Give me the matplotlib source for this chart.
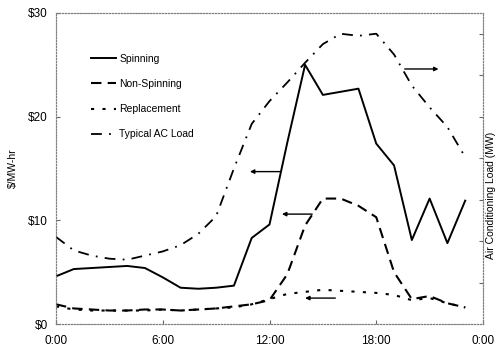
import numpy as np
import matplotlib.pyplot as plt

plt.rcParams['font.family'] = ['Liberation Sans', 'DejaVu Sans']

# hourly values (hour 0..23)
hours = np.arange(24)
spinning = [4.6, 5.3, 5.4, 5.5, 5.6, 5.4, 4.5, 3.5, 3.4, 3.5, 3.7, 8.3,
            9.6, 17.5, 25.0, 22.1, 22.4, 22.7, 17.4, 15.3, 8.1, 12.1, 7.8, 11.9]
non_spinning = [1.9, 1.5, 1.4, 1.3, 1.3, 1.4, 1.4, 1.3, 1.4, 1.5, 1.7, 1.9,
                2.3, 4.8, 9.5, 12.1, 12.1, 11.4, 10.3, 5.0, 2.4, 2.7, 2.0, 1.6]
replacement = [1.7, 1.4, 1.3, 1.3, 1.3, 1.3, 1.4, 1.3, 1.4, 1.5, 1.6, 1.9,
               2.4, 2.9, 3.1, 3.3, 3.2, 3.1, 3.0, 2.8, 2.3, 2.5, 2.0, 1.6]
ac_load = [8.4, 7.1, 6.6, 6.3, 6.2, 6.6, 7.0, 7.6, 8.7, 10.4, 15.0, 19.3,
           21.5, 23.3, 25.2, 27.0, 28.0, 27.8, 28.0, 26.0, 23.0, 20.9, 19.0, 16.1]

xtick_pos = [0, 6, 12, 18, 24]
xtick_labels = ['0:00', '6:00', '12:00', '18:00', '0:00']
ytick_pos = [0, 10, 20, 30]
ytick_labels = ['$0', '$10', '$20', '$30']

fig = plt.figure(figsize=(4.98, 3.55), dpi=100)
ax = fig.add_axes([56 / 498, 1 - 324 / 355, 427 / 498, 311 / 355])
ax2 = ax.twinx()

l1, = ax.plot(hours, spinning, color='k', lw=1.4, label='Spinning')
l2, = ax.plot(hours, non_spinning, color='k', lw=1.5, linestyle=(0, (5, 3)),
              label='Non-Spinning')
l3, = ax.plot(hours, replacement, color='k', lw=1.5, linestyle=(0, (1.5, 4)),
              label='Replacement')
l4, = ax2.plot(hours, ac_load, color='k', lw=1.3, linestyle=(0, (6, 4, 1, 4)),
               label='Typical AC Load')

ax.set_xlim(0, 24)
ax.set_ylim(0, 30)
ax2.set_ylim(0, 30)
ax.set_xticks(xtick_pos)
ax.set_xticklabels(xtick_labels, fontsize=8.5)
ax.set_yticks(ytick_pos)
ax.set_yticklabels(ytick_labels, fontsize=8.5)
ax.tick_params(direction='in', length=3, width=0.8, color='0.4')
ax.tick_params(axis='x', pad=8)
ax.tick_params(axis='y', pad=6)
ax2.set_yticks([4, 8, 12, 16, 20, 24, 28])
ax2.set_yticklabels([])
ax2.tick_params(direction='in', length=3, width=0.8, color='0.4')

for a in (ax, ax2):
    for s in a.spines.values():
        s.set_linestyle(':')
        s.set_linewidth(0.8)
        s.set_color('0.5')

ax.set_ylabel('$/MW-hr', fontsize=7.5)
ax.yaxis.set_label_coords(-0.09, 0.5)
fig.text(491 / 498, 1 - 195 / 355, 'Air Conditioning Load (MW)', rotation=90,
         fontsize=7.5, ha='center', va='center')

leg = ax.legend(handles=[l1, l2, l3, l4], loc='upper left',
                bbox_to_anchor=(0.07, 0.885), frameon=False, fontsize=7.5,
                handlelength=2.4, handletextpad=0.3, labelspacing=1.45,
                borderpad=0)

# arrows pointing each curve to its axis
arrow_kw = dict(arrowstyle='-|>', color='k', lw=1.0, mutation_scale=6,
                shrinkA=0, shrinkB=0)
ax.annotate('', xy=(10.9, 14.7), xytext=(12.6, 14.7), arrowprops=arrow_kw)
ax.annotate('', xy=(12.7, 10.6), xytext=(14.4, 10.6), arrowprops=arrow_kw)
ax.annotate('', xy=(14.0, 2.5), xytext=(15.7, 2.5), arrowprops=arrow_kw)
ax.annotate('', xy=(21.5, 24.6), xytext=(19.6, 24.6), arrowprops=arrow_kw)

fig.savefig('out.png', dpi=100)
